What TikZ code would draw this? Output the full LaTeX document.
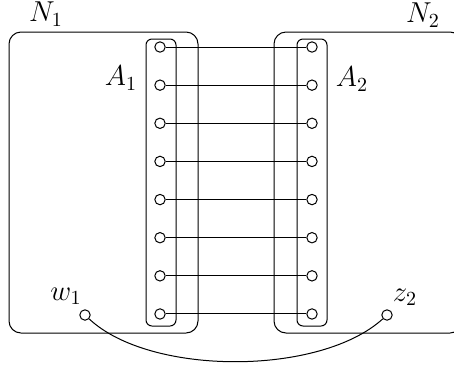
\documentclass[tikz,border=0pt]{standalone}
\begin{document}
\begin{tikzpicture}[x=0.5pt,y=-0.5pt,line width=0.5pt,
  port/.style={circle,draw,inner sep=0pt,minimum size=5.2pt,fill=white},
  region/.style={draw,rounded corners=6pt},
  group/.style={draw,rounded corners=3pt},
  lab/.style={font=\fontsize{14}{16}\selectfont}]
\useasboundingbox (0,0) rectangle (454,365);
\draw[region] (9,32) rectangle (198,333);
\draw[region] (274,32) rectangle (462,333);
\draw[group] (146,39) rectangle (176,326);
\draw[group] (297,39) rectangle (327,326);
\foreach \i in {0,...,7}{
  \node[port] (l\i) at (160,{47+\i*38.14}) {};
  \node[port] (r\i) at (312,{47+\i*38.14}) {};
  \draw (l\i) -- (r\i);
}
\node[port] (w) at (85,315) {};
\node[port] (z) at (387,315) {};
\draw (w) .. controls (150,376) and (320,376) .. (z);
\node[lab] (N1) at (46,14) {$N_1$};
\node[lab] (N2) at (423,15) {$N_2$};
\node[lab] (A1) at (121,78) {$A_1$};
\node[lab] (A2) at (352,79) {$A_2$};
\node[lab] (w1) at (66,296) {$w_1$};
\node[lab] (z2) at (405,297) {$z_2$};
\end{tikzpicture}
\end{document}
